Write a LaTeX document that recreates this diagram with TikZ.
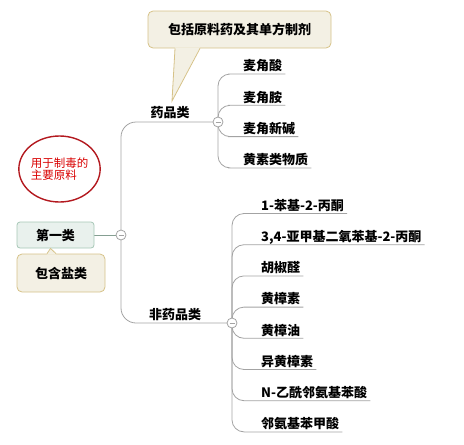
\documentclass[tikz,border=0pt]{standalone}
\usepackage{fontspec}
\setmainfont{Noto Sans CJK SC}
\usepackage{tikz}
\usetikzlibrary{positioning,backgrounds,shapes.geometric}
\definecolor{linegray}{HTML}{A3A3A3}
\definecolor{bubblefill}{HTML}{F3F0E4}
\definecolor{bubbleline}{HTML}{D6C288}
\definecolor{boxfill}{HTML}{E9F1ED}
\definecolor{boxline}{HTML}{A6C7B6}
\definecolor{markred}{HTML}{B3191F}
\newcommand{\topicfont}{\fontsize{13}{15}\selectfont\bfseries}
\tikzstyle{leaf}   = [anchor=south west, inner xsep=3pt, inner ysep=1pt,
                      text height=10pt, text depth=2pt, font=\topicfont]
\tikzstyle{branch} = [draw=linegray, line width=0.8pt]
\tikzstyle{fold}   = [circle, draw=linegray, fill=white, line width=0.8pt,
                      minimum size=10pt, inner sep=0pt,
                      path picture={\draw[linegray, line width=0.8pt]
                        ([xshift=-2.5pt]path picture bounding box.center) --
                        ([xshift=2.5pt]path picture bounding box.center);}]

\begin{document}
\begin{tikzpicture}[x=1pt, y=-1pt, font=\topicfont,
            bubble/.style={draw=bubbleline, fill=bubblefill, line width=0.8pt,
                           rounded corners=5pt, font=\topicfont},
            topicbox/.style={draw=boxline, fill=boxfill, line width=0.8pt,
                           rounded corners=3pt, minimum width=77pt,
                           minimum height=26pt, font=\topicfont},
            redmark/.style={ellipse, draw=markred, line width=1.4pt, fill=white,
                           minimum width=73pt, minimum height=66pt, inner sep=0pt,
                           align=left, text=red!85!black,
                           font=\fontsize{11.5}{12}\selectfont}]
    \useasboundingbox (0,0) rectangle (464,445);

    \node[fold] (c0) at (121,235) {};
    \node[fold] (c1) at (218,122) {};
    \node[fold] (c2) at (232,323) {};

    \node[topicbox] (first) at (55.5,235) {第一类};
    \node[bubble, minimum width=88pt, minimum height=38pt] (salt) at (61,273) {包含盐类};
    \node[bubble, minimum width=183pt, minimum height=37pt] (note) at (239.5,29.5) {包括原料药及其单方制剂};
    \coordinate (tip) at (172,101);
    \node[redmark] (mark) at (59.5,169) {用于制毒的\\主要原料};

    \node[font=\topicfont] (drug) at (170,113) {药品类};
    \node[font=\topicfont] (nondrug) at (175,315) {非药品类};

    \foreach \t [count=\i] in {麦角酸,麦角胺,麦角新碱,黄素类物质}
        \node[leaf] (a\i) at (240,{74+31.3*(\i-1)}) {\t};
    \foreach \t [count=\i] in {1-苯基-2-丙酮,{3,4-亚甲基二氧苯基-2-丙酮},胡椒醛,黄樟素,
                               黄樟油,异黄樟素,N-乙酰邻氨基苯酸,邻氨基苯甲酸}
        \node[leaf] (b\i) at (258,{213.5+31.2*(\i-1)}) {\t};

    \fill[bubblefill] ([xshift=-64.5pt,yshift=1pt]note.south) -- (tip) -- ([xshift=-39.5pt,yshift=1pt]note.south);
    \draw[bubbleline, line width=0.8pt] ([xshift=-64.5pt]note.south) -- (tip) -- ([xshift=-39.5pt]note.south);
    \fill[bubblefill] ([xshift=-14pt,yshift=-1pt]salt.north) -- ([xshift=-5pt]first.south) -- ([xshift=-5pt,yshift=-1pt]salt.north);
    \draw[bubbleline, line width=0.8pt] ([xshift=-14pt]salt.north) -- ([xshift=-5pt]first.south) -- ([xshift=-5pt]salt.north);

    \begin{scope}[on background layer]
        \draw[branch, draw=boxline!80!black] (first) -- (c0);
        \draw[branch, rounded corners=15pt] (c0.center) |- (c1.center);
        \draw[branch, rounded corners=15pt] (c0.center) |- (c2.center);
        \foreach \i in {1,...,4}
            \draw[branch, rounded corners=12pt] (c1.center) |- (a\i.south west) -- (a\i.south east);
        \foreach \i in {1,...,8}
            \draw[branch, rounded corners=12pt] (c2.center) |- (b\i.south west) -- (b\i.south east);
    \end{scope}
\end{tikzpicture}
\end{document}
